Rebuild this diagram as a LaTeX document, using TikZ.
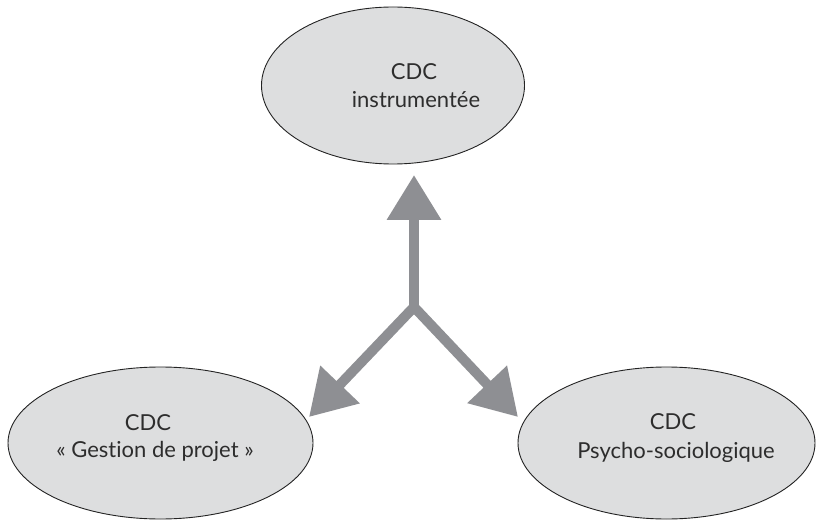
\documentclass[tikz,border=0pt]{standalone}
\usepackage{fontspec}
\setmainfont{Lato}[Ligatures={NoCommon}]
\usetikzlibrary{shapes.geometric,arrows.meta}
\definecolor{ellfill}{RGB}{221,222,223}
\definecolor{ellline}{RGB}{35,35,35}
\definecolor{arrgray}{RGB}{142,143,147}
\definecolor{txtgray}{RGB}{45,45,45}
\tikzset{
  ell/.style={ellipse, draw=ellline, line width=0.9pt, fill=ellfill, inner sep=0pt, outer sep=0pt},
  lbl/.style={anchor=base, inner sep=0pt, text=txtgray, font=\fontsize{22}{28}\selectfont},
  bigarrow/.style={draw=arrgray, line width=10pt, -{Triangle[length=45pt,width=52pt]}, fill=arrgray}
}
\begin{document}
\begin{tikzpicture}[x=1pt,y=-1pt]
\useasboundingbox (0,0) rectangle (816,521);
% ellipses
\node[ell, minimum width=263pt, minimum height=157pt] (top) at (393,85.5) {};
\node[ell, minimum width=305pt, minimum height=152pt] (left) at (160.5,443) {};
\node[ell, minimum width=297pt, minimum height=152pt] (right) at (666.5,443) {};
% labels
\node[lbl] (topa) at (414,80) {CDC};
\node[lbl] (topb) at (416,108) {instrumentée};
\node[lbl] (lefta) at (148,430) {CDC};
\node[lbl] (leftb) at (155,457) {« Gestion de projet »};
\node[lbl] (righta) at (673,429) {CDC};
\node[lbl] (rightb) at (676,458) {Psycho-sociologique};
% arrows
\coordinate (J) at (414,307);
\coordinate (tipT) at (414,175);
\coordinate (tipL) at (309,417);
\coordinate (tipR) at (518,417);
\draw[bigarrow] (J) -- (tipT);
\draw[bigarrow] (J) -- (tipL);
\draw[bigarrow] (J) -- (tipR);
\fill[arrgray] (J) circle (5pt);
\end{tikzpicture}
\end{document}
